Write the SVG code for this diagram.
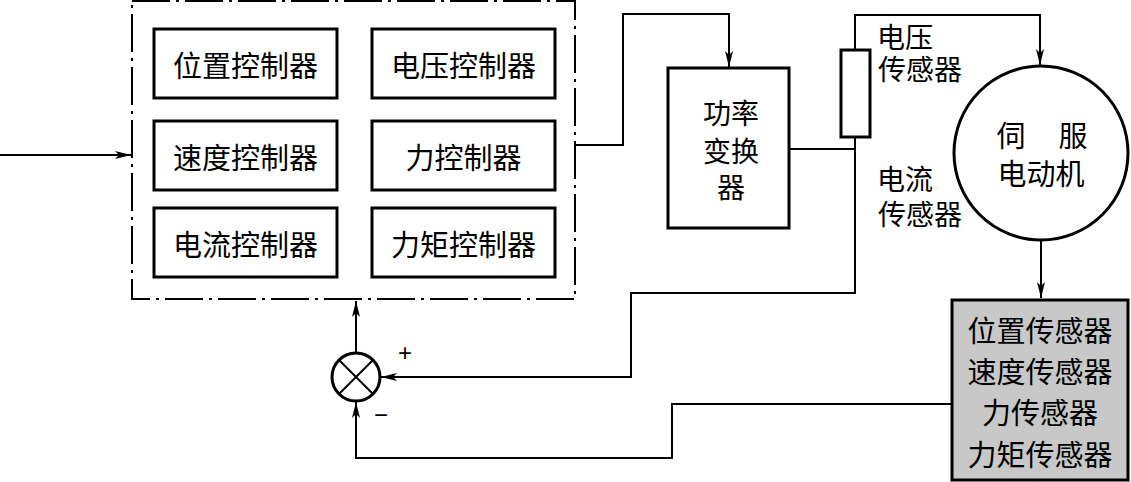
<svg xmlns="http://www.w3.org/2000/svg" width="1131" height="482" viewBox="0 0 1131 482">
<style>
.box{fill:#fff;stroke:#000;stroke-width:3}
.t{font-family:"Noto Sans CJK SC","Noto Sans",sans-serif;font-size:29px;fill:#000;text-anchor:middle;dominant-baseline:central}
.s{font-family:"Noto Sans CJK SC","Noto Sans",sans-serif;font-size:28px;fill:#000;text-anchor:middle;dominant-baseline:central}
.w{fill:none;stroke:#000;stroke-width:2}
.dd{fill:none;stroke:#000;stroke-width:2;stroke-dasharray:38 6 3 6}
</style>
<defs>
<marker id="ah" viewBox="0 0 16 8" refX="16" refY="4" markerWidth="16" markerHeight="8" markerUnits="userSpaceOnUse" orient="auto">
<path d="M0,0 L16,4 L0,8 L4,4 Z" fill="#000"/>
</marker>
</defs>
<rect x="0" y="0" width="1131" height="482" fill="#fff"/>
<g id="controller-group">
<rect class="dd" x="132" y="1" width="443" height="298"/>
</g>
<g id="pos-ctrl"><rect class="box" x="154" y="29" width="183" height="69"/><text class="t" x="245.5" y="63.5">位置控制器</text></g>
<g id="volt-ctrl"><rect class="box" x="372" y="29" width="183" height="69"/><text class="t" x="463.5" y="63.5">电压控制器</text></g>
<g id="speed-ctrl"><rect class="box" x="154" y="121" width="183" height="69"/><text class="t" x="245.5" y="155.5">速度控制器</text></g>
<g id="force-ctrl"><rect class="box" x="372" y="121" width="183" height="69"/><text class="t" x="463.5" y="155.5">力控制器</text></g>
<g id="cur-ctrl"><rect class="box" x="154" y="208" width="183" height="69"/><text class="t" x="245.5" y="242.5">电流控制器</text></g>
<g id="torque-ctrl"><rect class="box" x="372" y="208" width="183" height="69"/><text class="t" x="463.5" y="242.5">力矩控制器</text></g>
<g id="converter"><rect class="box" x="668" y="68" width="121" height="160"/>
<text class="s"><tspan x="731" y="112">功率</tspan><tspan x="731" y="150">变换</tspan><tspan x="731" y="186">器</tspan></text></g>
<g id="volt-sensor"><rect class="box" x="841" y="50" width="29" height="87"/>
<text class="s"><tspan x="905" y="36">电压</tspan><tspan x="920" y="68">传感器</tspan></text></g>
<g id="cur-sensor"><text class="s"><tspan x="905" y="178">电流</tspan><tspan x="920" y="213">传感器</tspan></text></g>
<g id="motor"><circle class="box" cx="1041" cy="153" r="87"/>
<text class="t"><tspan x="1011" y="134">伺</tspan><tspan x="1073" y="134">服</tspan><tspan x="1041" y="172">电动机</tspan></text></g>
<g id="sensors"><rect x="952" y="300" width="176" height="180" fill="#c8c8c8" stroke="#000" stroke-width="3"/>
<text class="t"><tspan x="1040" y="329">位置传感器</tspan><tspan x="1040" y="370">速度传感器</tspan><tspan x="1040" y="411">力传感器</tspan><tspan x="1040" y="453">力矩传感器</tspan></text></g>
<g id="sum"><circle cx="356" cy="377" r="24" fill="#fff" stroke="#000" stroke-width="3"/>
<path d="M339,360 L373,394 M373,360 L339,394" stroke="#000" stroke-width="2"/>
<text x="405" y="352" font-family="Liberation Sans,sans-serif" font-size="24" text-anchor="middle" dominant-baseline="central">+</text>
<text x="381" y="414" font-family="Liberation Sans,sans-serif" font-size="24" text-anchor="middle" dominant-baseline="central">−</text></g>
<g id="connectors">
<path class="w" d="M0,155 L131,155" marker-end="url(#ah)"/>
<path class="w" d="M575,145 L623,145 L623,14 L729,14 L729,67" marker-end="url(#ah)"/>
<path class="w" d="M789,149 L855,149"/>
<path class="w" d="M855,50 L855,15 L1040,15 L1040,65" marker-end="url(#ah)"/>
<path class="w" d="M855,137 L855,293 L631,293 L631,377 L381,377" marker-end="url(#ah)"/>
<path class="w" d="M1041,240 L1041,298" marker-end="url(#ah)"/>
<path class="w" d="M356,353 L356,301" marker-end="url(#ah)"/>
<path class="w" d="M952,404 L672,404 L672,458 L356,458 L356,402" marker-end="url(#ah)"/>
</g>
</svg>
